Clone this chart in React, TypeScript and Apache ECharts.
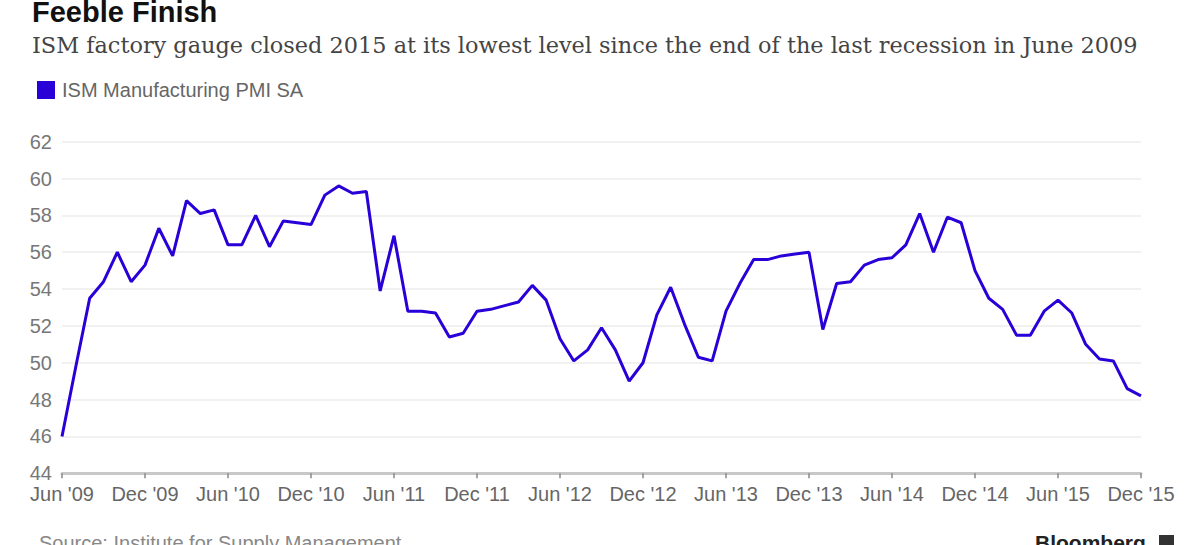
import { useEffect, useRef } from "react";
import * as echarts from "echarts";

const months: string[] = [
  "Jun '09", "Jul '09", "Aug '09", "Sep '09", "Oct '09", "Nov '09", "Dec '09",
  "Jan '10", "Feb '10", "Mar '10", "Apr '10", "May '10", "Jun '10", "Jul '10", "Aug '10", "Sep '10", "Oct '10", "Nov '10", "Dec '10",
  "Jan '11", "Feb '11", "Mar '11", "Apr '11", "May '11", "Jun '11", "Jul '11", "Aug '11", "Sep '11", "Oct '11", "Nov '11", "Dec '11",
  "Jan '12", "Feb '12", "Mar '12", "Apr '12", "May '12", "Jun '12", "Jul '12", "Aug '12", "Sep '12", "Oct '12", "Nov '12", "Dec '12",
  "Jan '13", "Feb '13", "Mar '13", "Apr '13", "May '13", "Jun '13", "Jul '13", "Aug '13", "Sep '13", "Oct '13", "Nov '13", "Dec '13",
  "Jan '14", "Feb '14", "Mar '14", "Apr '14", "May '14", "Jun '14", "Jul '14", "Aug '14", "Sep '14", "Oct '14", "Nov '14", "Dec '14",
  "Jan '15", "Feb '15", "Mar '15", "Apr '15", "May '15", "Jun '15", "Jul '15", "Aug '15", "Sep '15", "Oct '15", "Nov '15", "Dec '15",
];

const pmi: number[] = [
  46.0, 49.8, 53.5, 54.4, 56.0, 54.4, 55.3,
  57.3, 55.8, 58.8, 58.1, 58.3, 56.4, 56.4, 58.0, 56.3, 57.7, 57.6, 57.5,
  59.1, 59.6, 59.2, 59.3, 53.9, 56.9, 52.8, 52.8, 52.7, 51.4, 51.6, 52.8,
  52.9, 53.1, 53.3, 54.2, 53.4, 51.3, 50.1, 50.7, 51.9, 50.7, 49.0, 50.0,
  52.6, 54.1, 52.1, 50.3, 50.1, 52.8, 54.3, 55.6, 55.6, 55.8, 55.9, 56.0,
  51.8, 54.3, 54.4, 55.3, 55.6, 55.7, 56.4, 58.1, 56.0, 57.9, 57.6, 55.0,
  53.5, 52.9, 51.5, 51.5, 52.8, 53.4, 52.7, 51.0, 50.2, 50.1, 48.6, 48.2,
];

const seriesName = "ISM Manufacturing PMI SA";
const titleText = "Feeble Finish";
const subtitleText =
  "ISM factory gauge closed 2015 at its lowest level since the end of the last recession in June 2009";
const sourceText = "Source: Institute for Supply Management";
const brandText = "Bloomberg";

const yMin = 44;
const yMax = 62;
const yStep = 2;

const LINE_COLOR = "#2a00d8";
const SANS = '"Liberation Sans", Arial, sans-serif';
const SERIF = '"DejaVu Serif", "Liberation Serif", serif';

export default function App() {
  const ref = useRef<HTMLDivElement>(null);

  useEffect(() => {
    if (!ref.current) return;
    const chart = echarts.init(ref.current, null, { renderer: "svg" });
    chart.setOption({
      animation: false,
      backgroundColor: "#ffffff",
      grid: { left: 62, right: 59, top: 141.7, bottom: 71.7, containLabel: false },
      legend: {
        left: 32,
        top: 75,
        icon: "rect",
        itemWidth: 18,
        itemHeight: 18,
        itemGap: 10,
        data: [seriesName],
        textStyle: { color: "#666", fontSize: 20, fontFamily: SANS, padding: [0, 0, 0, 2] },
      },
      xAxis: {
        type: "category",
        data: months,
        boundaryGap: false,
        axisLine: { show: true, lineStyle: { color: "#c8c8c8", width: 3 } },
        axisTick: { show: true, interval: 5, length: 5, lineStyle: { color: "#888", width: 1.5 } },
        axisLabel: { interval: 5, color: "#666", fontSize: 20, fontFamily: SANS, margin: 11 },
        splitLine: { show: false },
      },
      yAxis: {
        type: "value",
        min: yMin,
        max: yMax,
        interval: yStep,
        axisLine: { show: false },
        axisTick: { show: false },
        axisLabel: { color: "#777", fontSize: 20, fontFamily: SANS, margin: 10 },
        splitLine: { show: true, lineStyle: { color: "#f1f1f1", width: 2 } },
      },
      series: [
        {
          name: seriesName,
          type: "line",
          data: pmi,
          symbol: "none",
          lineStyle: { color: LINE_COLOR, width: 3 },
          itemStyle: { color: LINE_COLOR },
        },
      ],
      graphic: [
        {
          type: "text",
          x: 32,
          y: 12,
          style: {
            text: titleText,
            fill: "#111",
            fontSize: 29,
            fontWeight: "bold",
            fontFamily: SANS,
            verticalAlign: "middle",
          },
        },
        {
          type: "text",
          x: 32,
          y: 45,
          style: {
            text: subtitleText,
            fill: "#444",
            fontSize: 22.4,
            fontFamily: SERIF,
            verticalAlign: "middle",
          },
        },
        {
          type: "text",
          x: 39,
          y: 533,
          style: {
            text: sourceText,
            fill: "#888",
            fontSize: 20,
            fontFamily: SANS,
            verticalAlign: "top",
          },
        },
        {
          type: "text",
          x: 1035,
          y: 532,
          style: {
            text: brandText,
            fill: "#222",
            fontSize: 21,
            fontWeight: "bold",
            fontFamily: SANS,
            verticalAlign: "top",
          },
        },
        {
          type: "rect",
          shape: { x: 1159, y: 535, width: 15, height: 15 },
          style: { fill: "#333" },
        },
      ],
    });
    return () => chart.dispose();
  }, []);

  return (
    <div
      ref={ref}
      style={{ position: "fixed", left: 0, top: 0, width: 1200, height: 545, background: "#fff" }}
    />
  );
}
